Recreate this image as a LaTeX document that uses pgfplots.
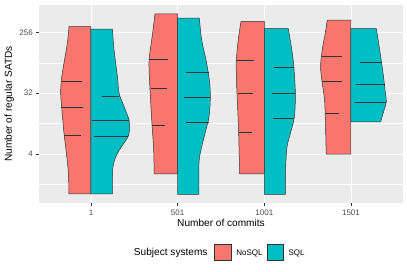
\documentclass[border=0pt]{standalone}
\usepackage{fontspec}
\setmainfont{Liberation Sans}
\usepackage{pgfplots}
\pgfplotsset{compat=1.18}
\definecolor{nosql}{HTML}{F8766D}
\definecolor{sqlc}{HTML}{00BFC4}
\definecolor{panel}{HTML}{EBEBEB}
\definecolor{outl}{HTML}{333333}
\definecolor{tickc}{HTML}{4D4D4D}
% half violin: #1 colour, #2 outer edge (bottom->top), #3 centre x, #4 bottom, #5 top
\newcommand{\half}[5]{%
  \addplot[fill=#1, draw=outl, line width=0.5pt, smooth, tension=0.55] coordinates {#2} -- (axis cs:#3,#5) -- (axis cs:#3,#4) -- cycle;
}
\newcommand{\qline}[3]{\addplot[outl, line width=0.5pt] coordinates {(#1,#3) (#2,#3)};}
\begin{document}
\begin{tikzpicture}
\begin{axis}[
  at={(0,0)}, anchor=south west,
  scale only axis, width=364pt, height=198pt,
  xmin=-0.6, xmax=3.6, ymin=-0.40, ymax=9.34,
  xtick={0,1,2,3}, xticklabels={1,501,1001,1501},
  ytick={2,5,8}, yticklabels={4,32,256},
  minor ytick={0.5,3.5,6.5},
  xmajorgrids, ymajorgrids, yminorgrids,
  major grid style={white, line width=0.9pt},
  minor grid style={white, line width=0.45pt},
  axis background/.style={fill=panel},
  axis line style={draw=none},
  tick align=outside, tick pos=left,
  major tick length=2.7pt, minor tick length=0pt,
  tick style={outl, line width=0.5pt},
  /pgf/number format/assume math mode=true,
  ticklabel style={font=\fontsize{8}{9.6}\selectfont, text=tickc},
  xticklabel style={anchor=base, inner sep=0pt, yshift=-9.8pt},
  yticklabel style={anchor=east, inner sep=0pt, xshift=-3.3pt},
  xlabel={Number of commits}, ylabel={Number of regular SATDs},
  every axis x label/.style={at={(axis description cs:0.5,-0.1187)}, anchor=base, font=\fontsize{10.1}{12}\selectfont},
  every axis y label/.style={at={(axis description cs:-0.0742,0.5)}, anchor=base, rotate=90, font=\fontsize{10.1}{12}\selectfont},
  legend style={at={(axis description cs:0.4816,-0.2485)}, anchor=west, draw=none, fill=none,
    inner sep=0pt, outer sep=0pt, legend columns=-1, font=\fontsize{8}{9.6}\selectfont,
    nodes={inner sep=0pt, anchor=base},
    /tikz/every odd column/.append style={column sep=5pt},
    /tikz/every even column/.append style={column sep=4pt}},
]
\addlegendimage{legend image code/.code={\draw[fill=nosql, draw=outl, line width=0.5pt] (0pt,-5pt) rectangle (16.5pt,10.6pt);}}
\addlegendentry{NoSQL}
\addlegendimage{legend image code/.code={\draw[fill=sqlc, draw=outl, line width=0.5pt] (0pt,-5pt) rectangle (16.5pt,10.6pt);}}
\addlegendentry{SQL}

% ---- group 1 (1 commit) ----
\half{nosql}{(-0.254,0.05) (-0.261,1.08) (-0.284,2.06) (-0.312,3.05) (-0.339,4.34) (-0.350,5.0) (-0.342,5.65) (-0.319,6.31) (-0.273,7.46) (-0.254,8.28)}{0}{0.05}{8.28}
\qline{-0.339}{-0.099}{5.59}
\qline{-0.350}{-0.088}{4.33}
\qline{-0.312}{-0.119}{2.93}
\half{sqlc}{(0.247,0.05) (0.247,0.74) (0.254,1.39) (0.286,1.88) (0.351,2.37) (0.428,2.87) (0.447,3.36) (0.439,3.69) (0.382,4.34) (0.324,5.0) (0.305,5.82) (0.266,7.13) (0.247,8.15)}{0}{0.05}{8.15}
\qline{0.132}{0.326}{4.87}
\qline{0.016}{0.439}{3.69}
\qline{0.035}{0.432}{2.90}

% ---- group 2 (501 commits) ----
\half{nosql}{(0.729,1.03) (0.723,2.21) (0.703,3.52) (0.683,5.0) (0.672,5.98) (0.672,6.72) (0.711,7.95) (0.738,8.9)}{1}{1.03}{8.9}
\qline{0.672}{0.884}{6.69}
\qline{0.691}{0.876}{5.23}
\qline{0.703}{0.853}{3.43}
\half{sqlc}{(1.246,0.03) (1.246,1.56) (1.269,2.21) (1.316,3.03) (1.362,3.85) (1.377,4.83) (1.365,5.65) (1.327,6.64) (1.277,7.62) (1.250,8.69)}{1}{0.03}{8.69}
\qline{1.096}{1.358}{6.01}
\qline{1.077}{1.373}{4.8}
\qline{1.096}{1.358}{3.55}

% ---- group 3 (1001 commits) ----
\half{nosql}{(1.716,1.03) (1.710,2.0) (1.704,3.03) (1.695,4.0) (1.684,5.0) (1.678,5.8) (1.676,6.55) (1.699,7.62) (1.731,8.54)}{2}{1.03}{8.54}
\qline{1.676}{1.877}{6.6}
\qline{1.692}{1.866}{5.0}
\qline{1.704}{1.854}{3.1}
\half{sqlc}{(2.243,0.03) (2.247,1.39) (2.262,2.37) (2.301,3.03) (2.347,3.85) (2.358,5.0) (2.340,6.31) (2.317,7.13) (2.277,8.18)}{2}{0.03}{8.18}
\qline{2.109}{2.340}{6.29}
\qline{2.086}{2.358}{5.0}
\qline{2.104}{2.347}{3.77}

% ---- group 4 (1501 commits) ----
\half{nosql}{(2.714,2.01) (2.706,3.36) (2.695,4.67) (2.668,5.49) (2.649,6.31) (2.668,7.13) (2.703,7.95) (2.726,8.6)}{3}{2.01}{8.6}
\qline{2.660}{2.891}{6.83}
\qline{2.668}{2.896}{5.6}
\qline{2.703}{2.857}{4.03}
\half{sqlc}{(3.342,3.59) (3.382,4.18) (3.408,4.59) (3.397,5.0) (3.370,5.98) (3.331,7.13) (3.292,8.18)}{3}{3.59}{8.18}
\qline{3.108}{3.342}{6.52}
\qline{3.061}{3.389}{5.42}
\qline{3.042}{3.408}{4.57}
\end{axis}
\node[anchor=base east, inner sep=0pt, font=\fontsize{10.1}{12}\selectfont] at (168.7pt,-52.8pt) {Subject systems};
\pgfresetboundingbox
\path[use as bounding box] (-39pt,-68pt) rectangle (368pt,203pt);
\end{tikzpicture}
\end{document}
